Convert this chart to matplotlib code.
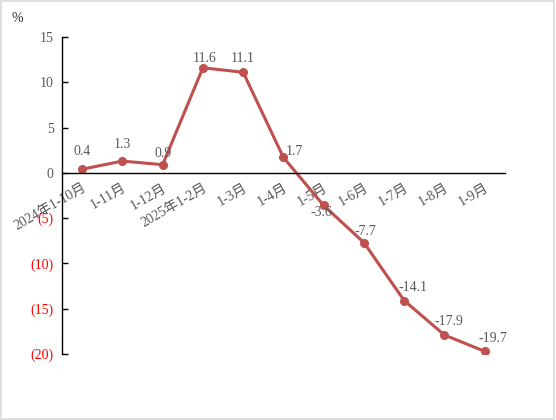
import numpy as np
import matplotlib.pyplot as plt
from matplotlib.patches import Rectangle

plt.rcParams['font.family'] = ['Liberation Serif', 'Noto Sans CJK SC']

months = ['2024年1-10月', '1-11月', '1-12月', '2025年1-2月', '1-3月', '1-4月',
          '1-5月', '1-6月', '1-7月', '1-8月', '1-9月']
values = [0.4, 1.3, 0.9, 11.6, 11.1, 1.7, -3.6, -7.7, -14.1, -17.9, -19.7]
# label offsets in points (dx, dy)
label_offsets = [(0, 13), (0, 12), (0, 8), (1, 7), (0, 10), (8, 4),
                 (-2, -5), (1, 8), (6.5, 9.5), (3.5, 10), (6, 9.5)]
yticks = [15, 10, 5, 0, -5, -10, -15, -20]

gray = '#595959'
red_line = '#C0504D'

fig = plt.figure(figsize=(5.56, 4.2), dpi=100)
fig.patches.append(Rectangle((0.002, 0.002), 0.995, 0.995, transform=fig.transFigure,
                             fill=False, edgecolor='#d9d9d9', linewidth=1.2))
ax = fig.add_axes([0.1115, 0.157, 0.7965, 0.755])

# set spine positions first: set_position resets the ticks
ax.spines['top'].set_visible(False)
ax.spines['right'].set_visible(False)
ax.spines['bottom'].set_position(('data', 0))
ax.spines['left'].set_linewidth(1)
ax.spines['bottom'].set_linewidth(1)

x = np.arange(len(months))
ax.plot(x, values, color=red_line, linewidth=2.2, marker='o', markersize=5.5,
        solid_capstyle='round')

for xi, v, (dx, dy) in zip(x, values, label_offsets):
    ax.annotate(f'{v:.1f}', (xi, v), xytext=(dx, dy), textcoords='offset points',
                ha='center', va='center', fontsize=10, color=gray)

ax.set_xlim(-0.5, len(months) - 0.5)
ax.set_ylim(-20, 15)
ax.set_yticks(yticks)
ylabels = [str(t) if t >= 0 else f'({-t})' for t in yticks]
ax.set_yticklabels(ylabels)
ax.tick_params(axis='y', direction='in', length=4, width=1, pad=6, labelsize=10)
for lab, t in zip(ax.get_yticklabels(), yticks):
    lab.set_color(gray if t >= 0 else 'red')

ax.set_xticks(x)
ax.set_xticklabels(months)
ax.tick_params(axis='x', length=0, pad=6, labelsize=10, labelcolor=gray)
for lab in ax.get_xticklabels():
    lab.set_rotation(30)
    lab.set_ha('right')
    lab.set_va('top')
    lab.set_rotation_mode('anchor')

fig.text(17 / 556, 1 - 18 / 420, '%', fontsize=10, color='#262626', ha='center', va='center')

fig.savefig('out.png', dpi=100)
